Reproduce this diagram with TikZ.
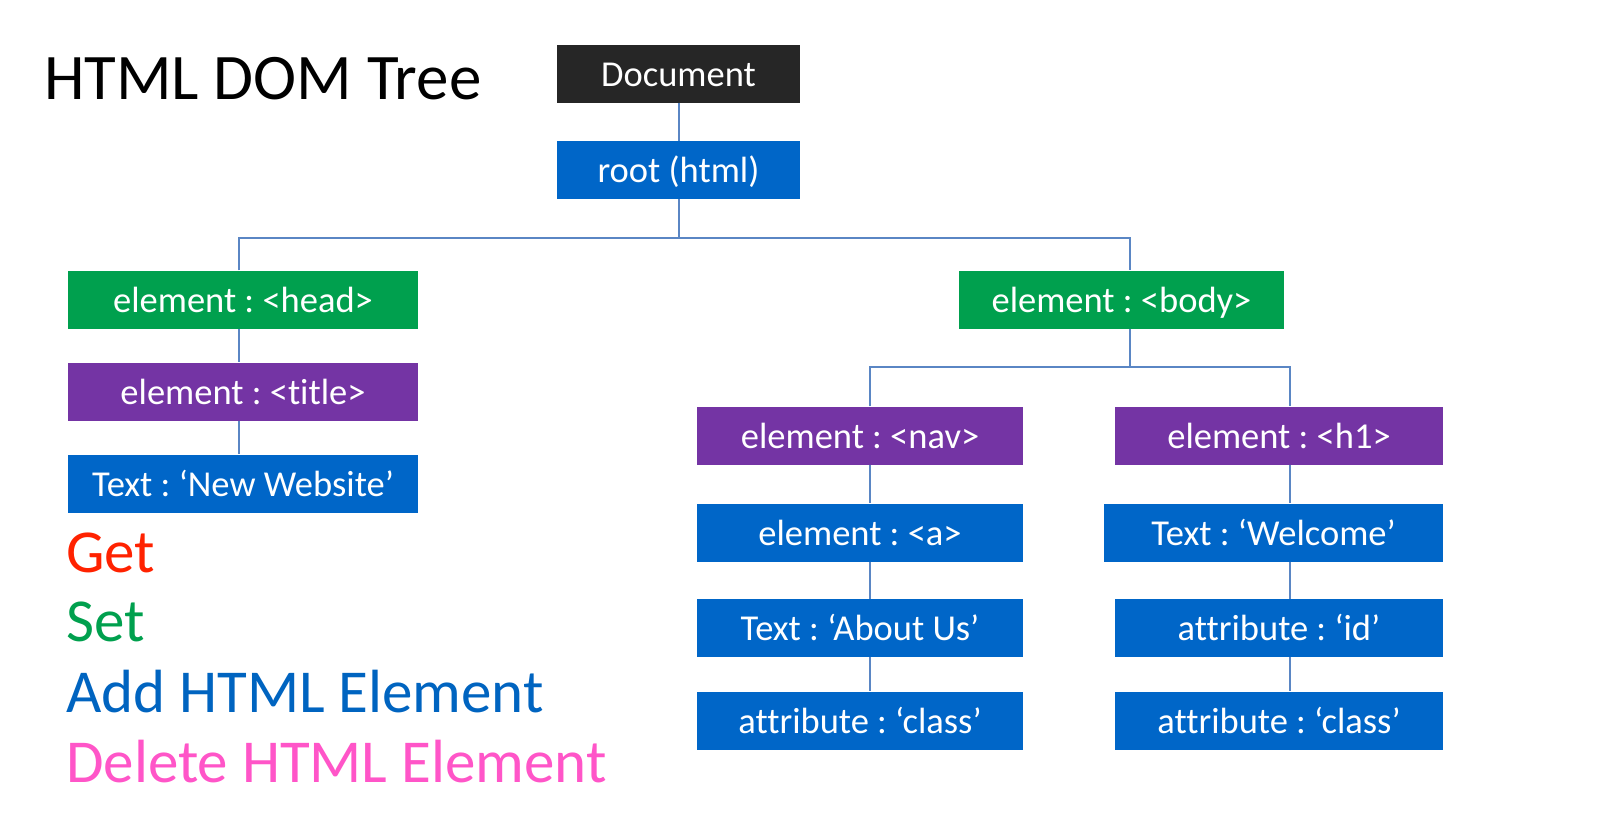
\documentclass[tikz,border=0pt]{standalone}
\usepackage{fontspec}
\setmainfont{Carlito}[Ligatures=NoCommon]
\frenchspacing
\definecolor{docgray}{HTML}{262626}
\definecolor{boxblue}{HTML}{0066C8}
\definecolor{boxgreen}{HTML}{00A04E}
\definecolor{boxpurple}{HTML}{7434A4}
\definecolor{linkblue}{HTML}{5A86C4}
\definecolor{getred}{HTML}{FF2200}
\definecolor{setgreen}{HTML}{00A04E}
\definecolor{addblue}{HTML}{0064C0}
\definecolor{delpink}{HTML}{FF55C8}
\begin{document}
\begin{tikzpicture}[x=1pt,y=-1pt,
  domnode/.style={inner sep=0pt, minimum height=58pt, text=white,
    text height=25pt, text depth=0pt,
    font=\fontsize{36.5}{40}\selectfont},
  docbox/.style={domnode, fill=docgray},
  bluebox/.style={domnode, fill=boxblue},
  greenbox/.style={domnode, fill=boxgreen},
  purplebox/.style={domnode, fill=boxpurple},
  link/.style={draw=linkblue, line width=2pt},
  legend/.style={anchor=base west, inner sep=0pt, font=\fontsize{61}{70}\selectfont}]
\useasboundingbox[fill=white] (0,0) rectangle (1608,831);

% title
\node[anchor=base west, inner sep=0pt, font=\fontsize{65}{74}\selectfont] (heading) at (44,99) {HTML DOM Tree};

% top of the tree
\node[docbox, minimum width=243pt] (doc) at (678.5,73.5) {Document};
\node[bluebox, minimum width=243pt] (root) at (678.5,170) {root (html)};

% head branch
\node[greenbox, minimum width=350pt] (head) at (243,299.5) {element : <head>};
\node[purplebox, minimum width=350pt] (title) at (243,391.5) {element : <title>};
\node[bluebox, minimum width=350pt] (newsite) at (243,483.5) {Text : ‘New Website’};

% body branch
\node[greenbox, minimum width=325pt] (body) at (1121.5,299.5) {element : <body>};
\node[purplebox, minimum width=326pt] (nav) at (860,435.5) {element : <nav>};
\node[purplebox, minimum width=328pt] (h1) at (1279,435.5) {element : <h1>};
\node[bluebox, minimum width=326pt] (anchor) at (860,532.5) {element : <a>};
\node[bluebox, minimum width=339pt] (welcome) at (1273.5,532.5) {Text : ‘Welcome’};
\node[bluebox, minimum width=326pt] (about) at (860,628) {Text : ‘About Us’};
\node[bluebox, minimum width=328pt] (attrid) at (1279,628) {attribute : ‘id’};
\node[bluebox, minimum width=326pt] (classL) at (860,720.5) {attribute : ‘class’};
\node[bluebox, minimum width=328pt] (classR) at (1279,720.5) {attribute : ‘class’};

% branching points of the connectors
\coordinate (busTop) at (678.5,238);
\coordinate (colHead) at (239,238);
\coordinate (colBody) at (1130,238);
\coordinate (busMid) at (1130,367);
\coordinate (colNav) at (870,367);
\coordinate (colH1) at (1290,367);

% connectors
\draw[link] (doc.south) -- (root.north);
\draw[link] (root.south) -- (busTop);
\draw[link] (head.north -| colHead) -- (colHead) -- (colBody) -- (body.north -| colBody);
\draw[link] (head.south -| colHead) -- (title.north -| colHead);
\draw[link] (title.south -| colHead) -- (newsite.north -| colHead);
\draw[link] (body.south -| busMid) -- (busMid);
\draw[link] (nav.north -| colNav) -- (colNav) -- (colH1) -- (h1.north -| colH1);
\draw[link] (nav.south -| colNav) -- (anchor.north -| colNav);
\draw[link] (anchor.south -| colNav) -- (about.north -| colNav);
\draw[link] (about.south -| colNav) -- (classL.north -| colNav);
\draw[link] (h1.south -| colH1) -- (welcome.north -| colH1);
\draw[link] (welcome.south -| colH1) -- (attrid.north -| colH1);
\draw[link] (attrid.south -| colH1) -- (classR.north -| colH1);

% operations list
\node[legend, text=getred] (get) at (66,572) {Get};
\node[legend, text=setgreen] (set) at (66,641) {Set};
\node[legend, text=addblue] (add) at (66,712) {Add HTML Element};
\node[legend, text=delpink] (del) at (66,782) {Delete HTML Element};
\end{tikzpicture}
\end{document}
